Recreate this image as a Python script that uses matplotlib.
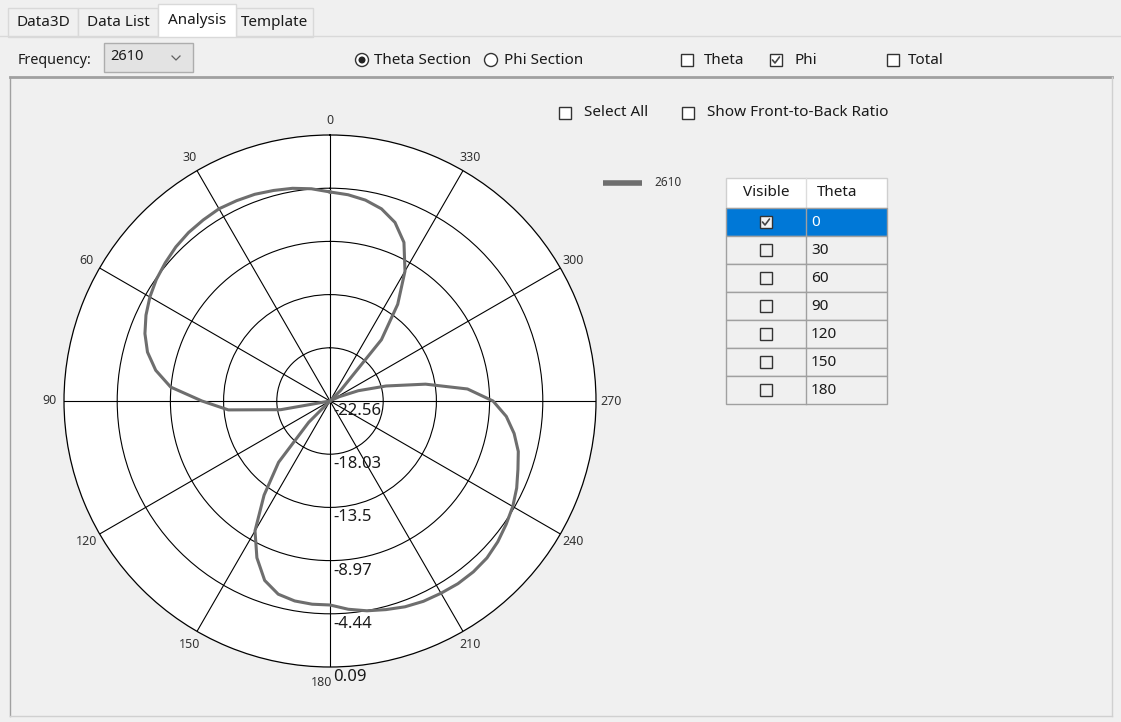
import numpy as np
import matplotlib.pyplot as plt
from matplotlib.patches import Rectangle, Circle
from matplotlib.transforms import ScaledTranslation

plt.rcParams['font.family'] = ['Noto Sans', 'DejaVu Sans']

W, H = 1121, 722

# pattern data (dB), Theta section, frequency 2610
angles_deg = list(range(0, 360, 5))
gain_db = [
    -4.76, -4.42, -4.17, -4.00, -3.83, -3.74, -3.66, -3.74, -3.83, -4.00,   # 0-45
    -4.25, -4.51, -4.85, -5.27, -5.79, -6.47, -7.49, -8.94, -11.66, -13.87,  # 50-95
    -18.30, -22.56, -22.56, -22.56, -22.56, -22.56, -22.56, -20.00, -15.75, -12.77,  # 100-145
    -9.79, -7.83, -6.30, -5.53, -5.27, -5.19, -5.19, -4.76, -4.42, -4.17,  # 150-195
    -3.91, -3.74, -3.66, -3.57, -3.57, -3.66, -3.91, -4.25, -4.59, -5.02,  # 200-245
    -5.53, -5.96, -6.64, -7.49, -8.68, -10.81, -14.30, -17.62, -20.00, -21.71,  # 250-295
    -22.56, -22.56, -22.56, -21.28, -15.75, -12.51, -9.79, -7.66, -6.38, -5.62,  # 300-345
    -5.19, -4.93,  # 350-355
]
freq_label = '2610'
r_min, r_max = -22.56, 0.09
ring_values = [-22.56, -18.03, -13.5, -8.97, -4.44, 0.09]
ring_labels = ['-22.56', '-18.03', '-13.5', '-8.97', '-4.44', '0.09']
theta_ticks = list(range(0, 360, 30))
table_theta = ['0', '30', '60', '90', '120', '150', '180']
table_visible = [True, False, False, False, False, False, False]
tab_names = ['Data3D', 'Data List', 'Analysis', 'Template']

fig = plt.figure(figsize=(W / 100, H / 100), dpi=100, facecolor='#f0f0f0')
ui = fig.add_axes([0, 0, 1, 1])
ui.set_xlim(0, W)
ui.set_ylim(H, 0)
ui.axis('off')

TXT = '#1a1a1a'
FS = 11


def checkbox(x, y, checked=False, face='white', edge='#333333', size=12):
    ui.add_patch(Rectangle((x - size / 2, y - size / 2), size, size,
                           facecolor=face, edgecolor=edge, lw=1))
    if checked:
        ui.plot([x - 3.5, x - 1, x + 3.5], [y, y + 3, y - 3],
                color='#444444', lw=1.2, solid_capstyle='round')


def radio(x, y, selected=False):
    ui.add_patch(Circle((x, y), 6.5, facecolor='white', edgecolor='#333333', lw=1))
    if selected:
        ui.add_patch(Circle((x, y), 3.5, facecolor='#222222', edgecolor='none'))


# tab strip
tab_boxes = [(8, 78), (78, 158), (158, 236), (236, 313)]
ui.plot([0, W], [36, 36], color='#d9d9d9', lw=1)
for name, (x0, x1) in zip(tab_names, tab_boxes):
    active = name == 'Analysis'
    top = 4 if active else 8
    ui.add_patch(Rectangle((x0, top), x1 - x0, 37 - top,
                           facecolor='white' if active else '#f0f0f0',
                           edgecolor='#d9d9d9', lw=1, zorder=2 if active else 1))
    ui.text((x0 + x1) / 2, 20 if active else 22, name, ha='center', va='center',
            fontsize=FS, color=TXT, zorder=3)

# frequency selector
ui.text(18, 61, 'Frequency:', ha='left', va='center', fontsize=10.3, color=TXT)
ui.add_patch(Rectangle((104, 43), 89, 29, facecolor='#e3e3e3', edgecolor='#adadad', lw=1))
ui.text(110, 56, freq_label, ha='left', va='center', fontsize=10.5, color=TXT)
ui.plot([172, 176, 180], [56, 60, 56], color='#606060', lw=0.9)

# section radios and component checkboxes
radio(362, 60, True)
ui.text(374, 60, 'Theta Section', ha='left', va='center', fontsize=FS, color=TXT)
radio(491, 60, False)
ui.text(504, 60, 'Phi Section', ha='left', va='center', fontsize=FS, color=TXT)
checkbox(687, 60)
ui.text(704, 60, 'Theta', ha='left', va='center', fontsize=FS, color=TXT)
checkbox(776, 60, True)
ui.text(794, 60, 'Phi', ha='left', va='center', fontsize=FS, color=TXT)
checkbox(893, 60)
ui.text(908, 60, 'Total', ha='left', va='center', fontsize=FS, color=TXT)

# chart panel frame
ui.plot([10, 1112], [77, 77], color='#a0a0a0', lw=2)
ui.plot([10, 10], [77, 716], color='#a0a0a0', lw=1)
ui.plot([1112, 1112], [77, 716], color='#d0d0d0', lw=1)
ui.plot([10, 1112], [716, 716], color='#d0d0d0', lw=1)

checkbox(565, 113)
ui.text(584, 113, 'Select All', ha='left', va='center', fontsize=FS, color=TXT)
checkbox(688, 113)
ui.text(707, 113, 'Show Front-to-Back Ratio', ha='left', va='center', fontsize=FS, color=TXT)

# legend
ui.plot([603, 642], [183, 183], color='#6e6e6e', lw=4, solid_capstyle='butt')
ui.text(654, 182, freq_label, ha='left', va='center', fontsize=8.5, color='#333333')

# table
tx0, tsplit, tx1 = 726, 806, 887
hy0, hy1, row_h = 178, 208, 28
ui.add_patch(Rectangle((tx0, hy0), tx1 - tx0, hy1 - hy0, facecolor='white',
                       edgecolor='#cfcfcf', lw=1))
ui.plot([tsplit, tsplit], [hy0, hy1], color='#dcdcdc', lw=1)
ui.text((tx0 + tsplit) / 2, (hy0 + hy1) / 2, 'Visible', ha='center', va='center',
        fontsize=FS, color=TXT)
ui.text(tsplit + 11, (hy0 + hy1) / 2, 'Theta', ha='left', va='center',
        fontsize=FS, color=TXT)
for i, (th, vis) in enumerate(zip(table_theta, table_visible)):
    y0 = hy1 + i * row_h
    sel = i == 0
    face = '#0078d7' if sel else '#f0f0f0'
    ui.add_patch(Rectangle((tx0, y0), tx1 - tx0, row_h, facecolor=face,
                           edgecolor='#a0a0a0', lw=1))
    ui.plot([tsplit, tsplit], [y0, y0 + row_h], color='#a0a0a0', lw=1)
    checkbox((tx0 + tsplit) / 2, y0 + row_h / 2, vis,
             face='#f4f4f4' if sel else '#f0f0f0')
    ui.text(tsplit + 5, y0 + row_h / 2 + 1, th, ha='left', va='center', fontsize=FS,
            color='white' if sel else TXT)

# polar chart
cx, cy, rad = 330, 401, 266
ax = fig.add_axes([(cx - rad) / W, (H - cy - rad) / H, 2 * rad / W, 2 * rad / H],
                  projection='polar')
ax.set_theta_zero_location('N')
ax.set_theta_direction(1)
ax.set_facecolor('white')
ax.set_rlim(r_min, r_max)
ax.set_rticks(ring_values[1:-1])
ax.set_yticklabels([])
ax.set_thetagrids(theta_ticks, labels=[''] * len(theta_ticks))
ax.grid(True, color='black', lw=0.8)
ax.spines['polar'].set_color('black')
ax.spines['polar'].set_linewidth(0.9)
ax.tick_params(axis='both', length=0)

th = np.deg2rad(angles_deg + [360])
ax.plot(th, gain_db + gain_db[:1], color='#6e6e6e', lw=2.2, zorder=5)

for t in theta_ticks:
    a = np.deg2rad(t)
    dx = -15 * np.sin(a)
    dy = 15 * np.cos(a)
    ha = 'center'
    if t == 180:
        dx, ha = 2, 'right'
    tr = ax.transData + ScaledTranslation(dx / 100, dy / 100, fig.dpi_scale_trans)
    ax.text(a, r_max, str(t), transform=tr, ha=ha, va='center',
            fontsize=9, color='#333333', clip_on=False)

for rv, lab in zip(ring_values, ring_labels):
    tr = ax.transData + ScaledTranslation(3 / 100, -10 / 100, fig.dpi_scale_trans)
    ax.text(np.pi, rv, lab, transform=tr, ha='left', va='center',
            fontsize=12, color=TXT, clip_on=False, zorder=6)

fig.savefig('out.png', dpi=100, facecolor=fig.get_facecolor())
